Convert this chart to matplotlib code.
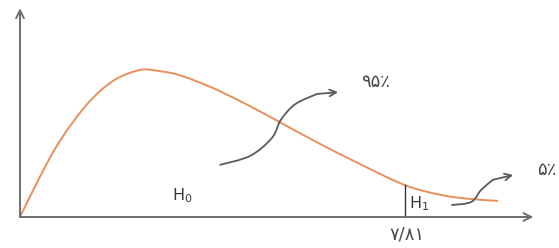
import matplotlib
matplotlib.use("Agg")
import matplotlib.pyplot as plt
from matplotlib.path import Path
from matplotlib.patches import PathPatch

# ---- data (schematic chi-square style density) ----
curve_x = [0.0, 0.41, 0.81, 1.36, 1.89, 2.43, 2.84, 3.25, 3.91, 4.61, 5.27,
           5.94, 6.90, 7.81, 8.52, 9.13, 9.68]
curve_y = [0.0, 0.068, 0.127, 0.188, 0.227, 0.245, 0.243, 0.236, 0.215,
           0.187, 0.158, 0.128, 0.088, 0.053, 0.037, 0.030, 0.027]

critical_value = 7.81
critical_label = "۷/۸۱"
accept_label = "۹۵٪"
reject_label = "۵٪"
h0_label = r"$\mathrm{H}_0$"
h1_label = r"$\mathrm{H}_1$"

# pointer arrows (annotation paths)
arrow95_x = [4.06, 4.67, 5.11, 5.29, 5.58, 6.02, 6.45]
arrow95_y = [0.087, 0.102, 0.132, 0.162, 0.188, 0.205, 0.208]
arrow5_x = [8.76, 9.15, 9.35, 9.59, 10.0]
arrow5_y = [0.020, 0.025, 0.045, 0.062, 0.070]

x_axis_end = 10.41
y_axis_end = 0.348


def smooth_path(xs, ys):
    """Catmull-Rom spline through the given points as cubic Bezier path."""
    pts = list(zip(xs, ys))
    verts = [pts[0]]
    codes = [Path.MOVETO]
    n = len(pts)
    for i in range(n - 1):
        p0 = pts[i - 1] if i > 0 else pts[i]
        p1 = pts[i]
        p2 = pts[i + 1]
        p3 = pts[i + 2] if i + 2 < n else pts[i + 1]
        c1 = (p1[0] + (p2[0] - p0[0]) / 6, p1[1] + (p2[1] - p0[1]) / 6)
        c2 = (p2[0] - (p3[0] - p1[0]) / 6, p2[1] - (p3[1] - p1[1]) / 6)
        verts += [c1, c2, p2]
        codes += [Path.CURVE4] * 3
    return Path(verts, codes)


# ---- figure ----
fig = plt.figure(figsize=(5.59, 2.48), dpi=100)
ax = fig.add_axes([0, 0, 1, 1])
ax.set_xlim(-0.406, 10.93)
ax.set_ylim(-0.0517, 0.3617)
ax.axis("off")

axis_col = "#6f6f6f"
ink = "#4a4a4a"
arrow_col = "#5a5a5a"

# axes with arrow heads
for end in ((x_axis_end, 0), (0, y_axis_end)):
    ax.annotate("", xy=end, xytext=(0, 0),
                arrowprops=dict(arrowstyle="->", color=axis_col, lw=1.4,
                                mutation_scale=14, shrinkA=0, shrinkB=0))

# density curve
ax.add_patch(PathPatch(smooth_path(curve_x, curve_y), fill=False,
                       edgecolor="#e8905c", lw=1.4, capstyle="round"))

# critical value line
crit_y = curve_y[curve_x.index(critical_value)]
ax.plot([critical_value, critical_value], [0, crit_y], color="#333333", lw=1.0)

# pointer arrows
for xs, ys in ((arrow95_x, arrow95_y), (arrow5_x, arrow5_y)):
    ax.add_patch(PathPatch(smooth_path(xs[:-1], ys[:-1]), fill=False,
                           edgecolor=arrow_col, lw=1.3, capstyle="round"))
    ax.annotate("", xy=(xs[-1], ys[-1]), xytext=(xs[-2], ys[-2]),
                arrowprops=dict(arrowstyle="->", color=arrow_col, lw=1.3,
                                mutation_scale=12, shrinkA=0, shrinkB=0))

fam = ["DejaVu Sans"]
ax.text(7.20, 0.225, accept_label, ha="center", va="center", fontsize=13,
        color=ink, family=fam)
ax.text(10.69, 0.078, reject_label, ha="center", va="center", fontsize=13,
        color=ink, family=fam)
ax.text(critical_value + 0.04, -0.029, critical_label, ha="center", va="center",
        fontsize=13, color=ink, family=fam)
ax.text(3.29, 0.035, h0_label, ha="center", va="center", fontsize=11.5,
        color="#3a3a3a")
ax.text(8.09, 0.022, h1_label, ha="center", va="center", fontsize=11.5,
        color="#3a3a3a")

fig.savefig("out.png", dpi=100, facecolor="white")
